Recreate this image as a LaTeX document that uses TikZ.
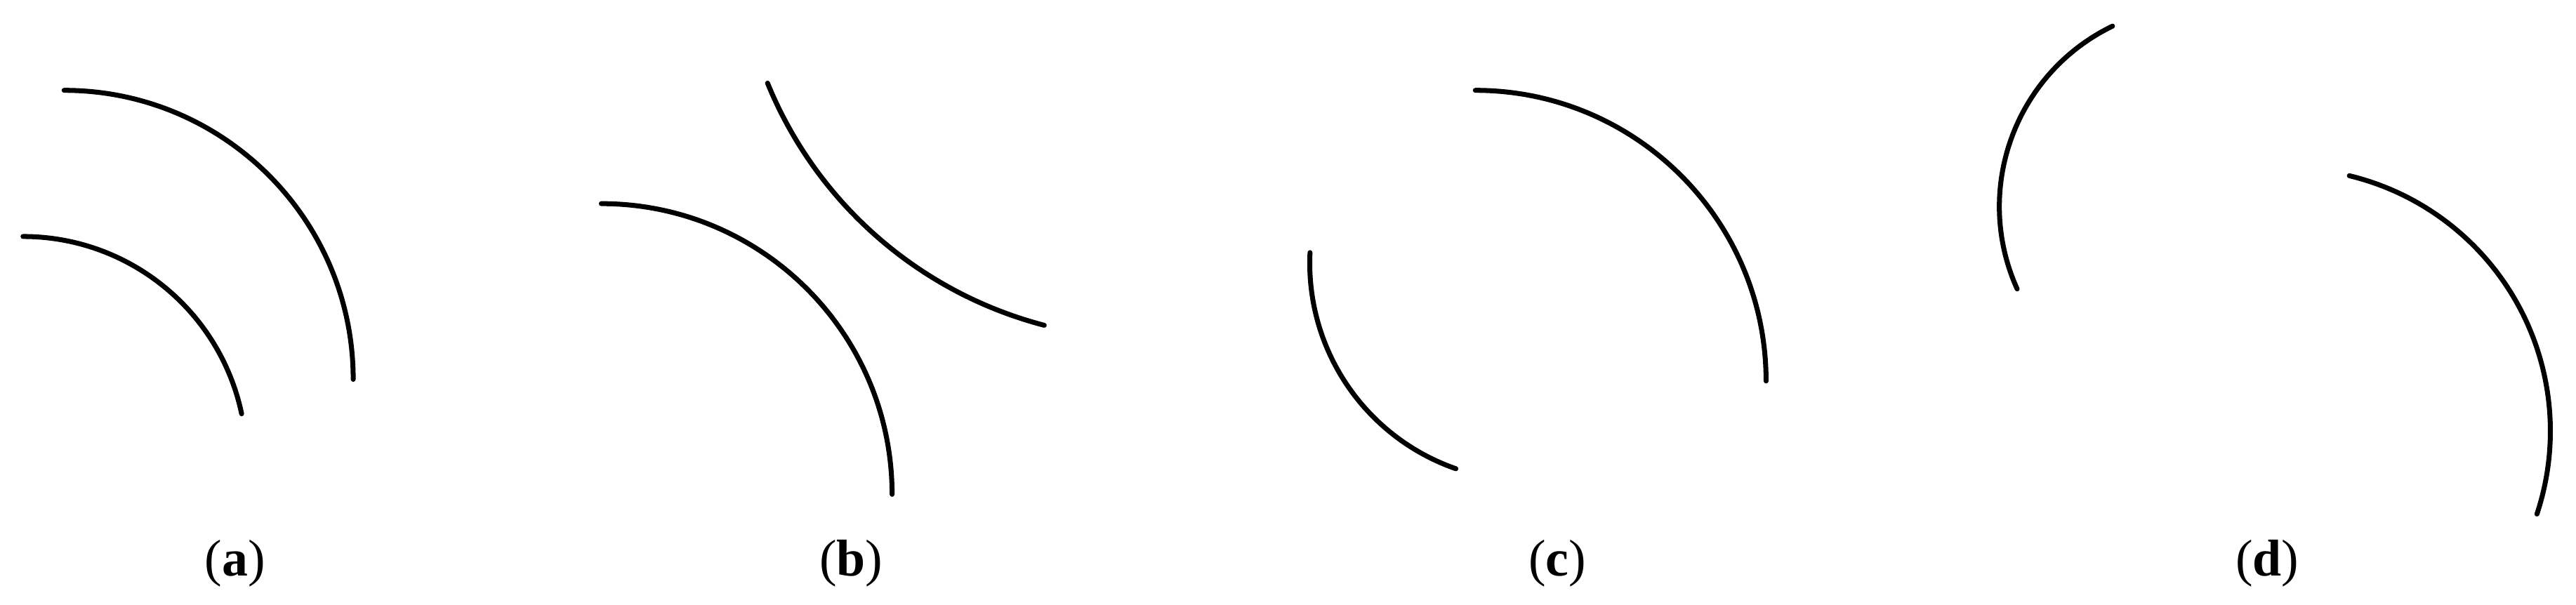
\documentclass[tikz,border=0pt]{standalone}
\usepackage{fontspec}
\setmainfont{Liberation Serif}
\tikzset{arcline/.style={line width=2pt,line cap=round},
  caption/.style={font=\fontsize{21}{25}\selectfont}}
\begin{document}
\begin{tikzpicture}[x=0.0234cm,y=0.0234cm]
  \useasboundingbox (0,0) rectangle (1568,368);
  \coordinate   (a1)        at (39,313);
  \coordinate   (a2)        at (14,224);
  \coordinate   (b1)        at (366,244);
  \coordinate   (b2)        at (467.2,317.4);
  \coordinate   (c1)        at (898,313);
  \coordinate   (c2)        at (797.4,214.2);
  \coordinate   (d1)        at (1285.9,352.1);
  \coordinate   (d2)        at (1430,261);
  \begin{scope}[every node/.style={caption}]
    \node       (la)        at (143,25)  {(\textbf{a})};
    \node       (lb)        at (518,25)  {(\textbf{b})};
    \node       (lc)        at (948,25)  {(\textbf{c})};
    \node       (ld)        at (1380,25) {(\textbf{d})};
  \end{scope}
  \draw[arcline] (a1) arc[start angle=90,end angle=0,radius=176];
  \draw[arcline] (a2) arc[start angle=90,end angle=11.9,radius=136];
  \draw[arcline] (b1) arc[start angle=90,end angle=0,radius=177];
  \draw[arcline] (b2) arc[start angle=202.2,end angle=255.4,radius=250];
  \draw[arcline] (c1) arc[start angle=90,end angle=0,radius=177];
  \draw[arcline] (c2) arc[start angle=177.2,end angle=250.8,radius=132.5];
  \draw[arcline] (d1) arc[start angle=115.8,end angle=204.3,radius=122];
  \draw[arcline] (d2) arc[start angle=76.4,end angle=-18.4,radius=160];
\end{tikzpicture}
\end{document}
